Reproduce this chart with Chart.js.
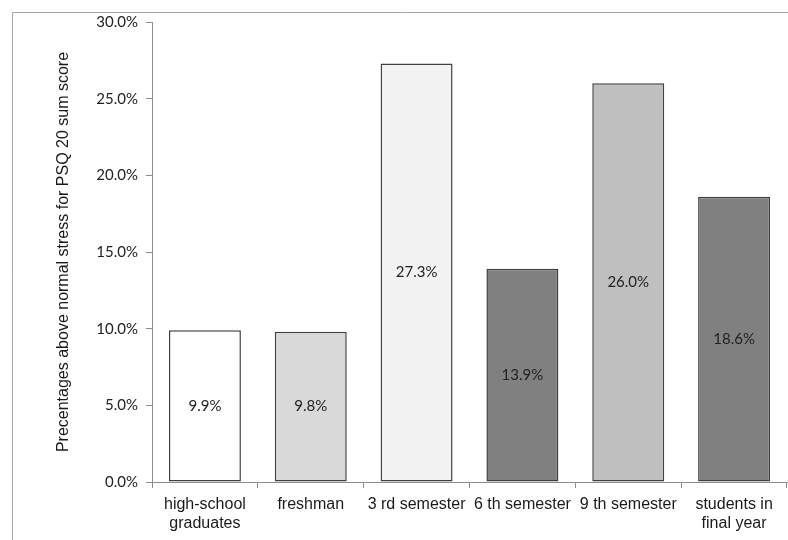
<!DOCTYPE html>
<html>
<head>
<meta charset="utf-8">
<script src="https://cdn.jsdelivr.net/npm/chart.js@4/dist/chart.umd.min.js"></script>
<style>
  html, body { margin: 0; padding: 0; background: #fff; }
  #wrap { width: 788px; height: 540px; position: relative; }
</style>
</head>
<body>
<div id="wrap"><canvas id="c" width="788" height="540"></canvas></div>
<script>
// Groups of students surveyed
const categories = [
  ['high-school', 'graduates'],
  'freshman',
  '3 rd semester',
  '6 th semester',
  '9 th semester',
  ['students in', 'final year']
];
// Share above normal stress (PSQ 20 sum score), percent
const stressValues = [9.9, 9.8, 27.3, 13.9, 26.0, 18.6];
const barFills = ['#ffffff', '#d9d9d9', '#f2f2f2', '#808080', '#bfbfbf', '#808080'];
const yTicks = [0, 5, 10, 15, 20, 25, 30];

// Thin grey frame around the figure
const framePlugin = {
  id: 'frame',
  beforeDraw(chart) {
    const ctx = chart.ctx;
    ctx.save();
    ctx.strokeStyle = '#a6a6a6';
    ctx.lineWidth = 1;
    ctx.beginPath();
    ctx.moveTo(12.5, 540);
    ctx.lineTo(12.5, 12.5);
    ctx.lineTo(788, 12.5);
    ctx.stroke();
    ctx.restore();
  }
};

// Value labels centred inside each bar
const barLabels = {
  id: 'barLabels',
  afterDatasetsDraw(chart) {
    const ctx = chart.ctx;
    const meta = chart.getDatasetMeta(0);
    ctx.save();
    ctx.font = '15px Lato';
    ctx.fillStyle = '#222222';
    ctx.textAlign = 'center';
    ctx.textBaseline = 'middle';
    meta.data.forEach((bar, i) => {
      const v = stressValues[i];
      const mid = (bar.y + bar.base) / 2;
      ctx.fillText(v.toFixed(1) + '%', bar.x, mid);
    });
    ctx.restore();
  }
};

new Chart(document.getElementById('c'), {
  type: 'bar',
  data: {
    labels: categories,
    datasets: [{
      data: stressValues,
      backgroundColor: barFills,
      borderColor: '#404040',
      borderWidth: 1.5,
      borderSkipped: false,
      categoryPercentage: 1,
      barPercentage: 0.68
    }]
  },
  options: {
    responsive: false,
    animation: false,
    events: [],
    layout: { padding: { top: 22, right: 1, left: 0, bottom: 0 } },
    plugins: {
      legend: { display: false },
      tooltip: { enabled: false }
    },
    scales: {
      x: {
        offset: true,
        grid: {
          offset: true,
          drawOnChartArea: false,
          drawTicks: true,
          tickLength: 6,
          color: '#8c8c8c'
        },
        border: { color: '#8c8c8c', width: 1 },
        ticks: {
          font: { family: 'Liberation Sans', size: 16 },
          color: '#1a1a1a',
          padding: 7,
          maxRotation: 0,
          autoSkip: false
        },
        afterFit(scale) { scale.height = 58; }
      },
      y: {
        min: 0,
        max: 30,
        afterBuildTicks(scale) { scale.ticks = yTicks.map(v => ({ value: v })); },
        grid: {
          drawOnChartArea: false,
          drawTicks: true,
          tickLength: 6,
          color: '#8c8c8c'
        },
        border: { color: '#8c8c8c', width: 1 },
        ticks: {
          font: { family: 'Lato', size: 15 },
          color: '#222222',
          padding: 8,
          callback: v => v.toFixed(1) + '%'
        },
        title: {
          display: true,
          text: 'Precentages above normal stress for PSQ 20 sum score',
          font: { family: 'Liberation Sans', size: 16 },
          color: '#1a1a1a',
          padding: { top: 54, bottom: 0 }
        },
        afterFit(scale) { scale.width = 152; }
      }
    }
  },
  plugins: [framePlugin, barLabels]
});
</script>
</body>
</html>
